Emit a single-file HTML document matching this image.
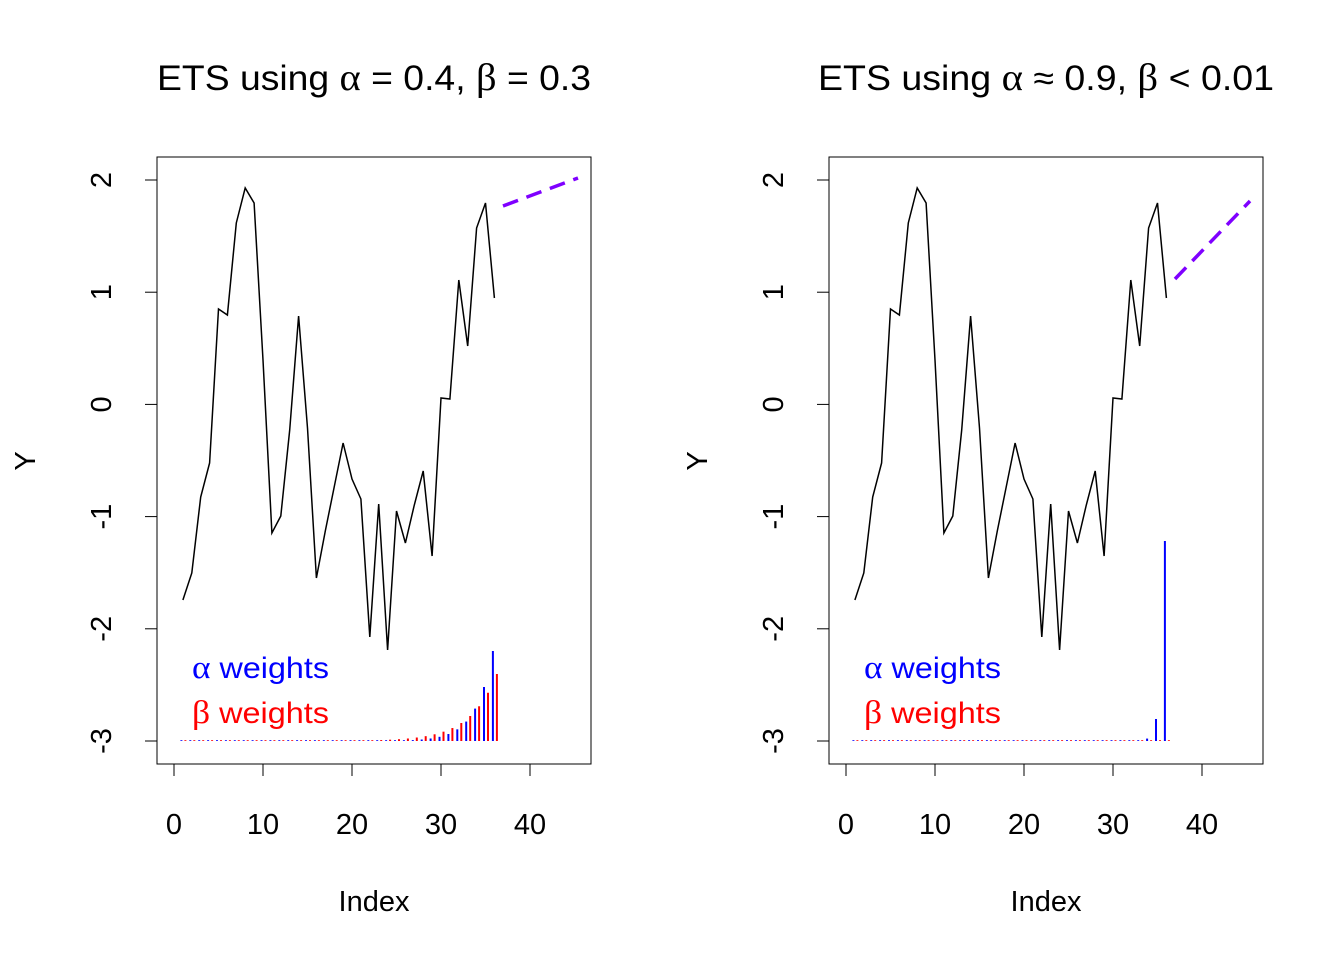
<!DOCTYPE html>
<html><head><meta charset="utf-8"><style>body{margin:0;background:#fff}svg{display:block}text{font-family:"Liberation Sans",sans-serif}</style></head>
<body>
<svg id="s" width="1344" height="960" xmlns="http://www.w3.org/2000/svg"></svg>
<script>
var s=document.getElementById('s');var h='';
var ys=[600,573,497,463,309,315,223,188,203,360,533,516,430,316,428,578,531,487,443,479,499,637,504,650,511,543,505,471,556,398,399,280,346,228,203,298];
function panel(ox,title,tl,blueH,redH,fc){
 var X=function(v){return ox+174+v*8.9};
 h+='<rect x="'+(ox+157)+'" y="157" width="434" height="607" fill="none" stroke="#000" stroke-width="1"/>';
 h+='<text x="'+(ox+157+(434-tl)/2+ (ox?0:0))+'" y="90" font-size="35" textLength="'+tl+'" lengthAdjust="spacingAndGlyphs">'+title+'</text>';
 h+='<line x1="'+X(0)+'" y1="764" x2="'+X(40)+'" y2="764" stroke="#000"/>';
 for(var t=0;t<=40;t+=10){h+='<line x1="'+X(t)+'" y1="764" x2="'+X(t)+'" y2="776" stroke="#000"/><text x="'+X(t)+'" y="834" font-size="29" text-anchor="middle">'+t+'</text>';}
 h+='<line x1="'+(ox+157)+'" y1="180" x2="'+(ox+157)+'" y2="741" stroke="#000"/>';
 for(var k=0;k<6;k++){var yv=2-k,y=180+k*112.2;h+='<line x1="'+(ox+145)+'" y1="'+y+'" x2="'+(ox+157)+'" y2="'+y+'" stroke="#000"/><text transform="translate('+(ox+111)+','+y+') rotate(-90)" font-size="29" text-anchor="middle">'+(yv<0?'-'+(-yv):yv)+'</text>';}
 h+='<text x="'+(ox+374)+'" y="911" font-size="29" text-anchor="middle">Index</text>';
 h+='<text transform="translate('+(ox+35)+',461) rotate(-90)" font-size="29" text-anchor="middle">Y</text>';
 var p='';for(var i=0;i<36;i++)p+=X(i+1).toFixed(1)+','+ys[i]+' ';
 h+='<polyline points="'+p+'" fill="none" stroke="#000" stroke-width="1.5"/>';
 for(var i=1;i<=36;i++){var k=36-i;var bh=blueH(k),rh=redH(k);
  h+='<line x1="'+(X(i)-1.5)+'" y1="741" x2="'+(X(i)-1.5)+'" y2="'+(741-Math.max(bh,0.8))+'" stroke="#00f" stroke-width="2"/>';
  h+='<line x1="'+(X(i)+2.5)+'" y1="741" x2="'+(X(i)+2.5)+'" y2="'+(741-Math.max(rh,0.8))+'" stroke="#f00" stroke-width="2"/>';}
 h+='<line x1="'+fc[0]+'" y1="'+fc[1]+'" x2="'+fc[2]+'" y2="'+fc[3]+'" stroke="#7f00ff" stroke-width="3.5" stroke-dasharray="16,9"/>';
 h+='<text x="'+(ox+192)+'" y="678" font-size="30" fill="#00f" textLength="137" lengthAdjust="spacingAndGlyphs"><tspan font-family="Liberation Serif" font-size="33">α</tspan> weights</text>';
 h+='<text x="'+(ox+192)+'" y="723" font-size="30" fill="#f00" textLength="137" lengthAdjust="spacingAndGlyphs"><tspan font-family="Liberation Serif" font-size="33">β</tspan> weights</text>';
}
panel(0,'ETS using <tspan font-family="Liberation Serif" font-size="38">α</tspan> = 0.4, <tspan font-family="Liberation Serif" font-size="38">β</tspan> = 0.3',434,function(k){return 90*Math.pow(0.6,k)},function(k){return 67*Math.pow(0.72,k)},[503,206,578,178]);
panel(672,'ETS using <tspan font-family="Liberation Serif" font-size="38">α</tspan> ≈ 0.9, <tspan font-family="Liberation Serif" font-size="38">β</tspan> &lt; 0.01',456,function(k){return 200*Math.pow(0.11,k)},function(k){return 0},[1175,279,1250,201]);
s.innerHTML=h;
</script>
</body></html>
